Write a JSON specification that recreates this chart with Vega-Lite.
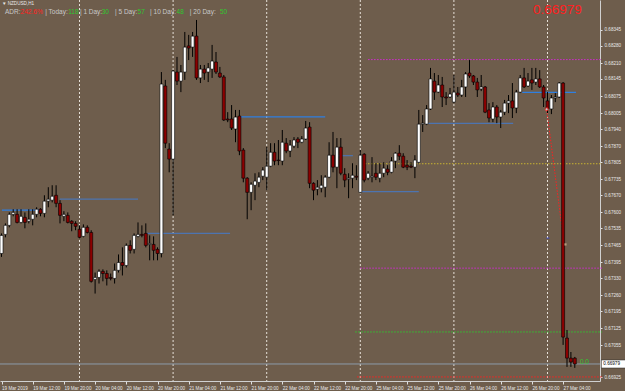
{
"$schema":"https://vega.github.io/schema/vega-lite/v6.json",
"width":600,"height":381,"autosize":{"type":"none"},"padding":{"left":0,"top":0,"right":25,"bottom":10},
"background":"#6e5d4c",
"config":{"view":{"stroke":null},"font":"Liberation Sans","axis":{"labelOverlap":false,"labelFlush":false,"labelBound":false},"scale":{"continuousPadding":0}},
"datasets":{
"candles":[
{"i":0,"o":0.67431,"h":0.67513,"l":0.67417,"c":0.67505},{"i":1,"o":0.67509,"h":0.67554,"l":0.67497,"c":0.67546},{"i":2,"o":0.67546,"h":0.67599,"l":0.67538,"c":0.67591},{"i":3,"o":0.67591,"h":0.67612,"l":0.67583,"c":0.67599},{"i":4,"o":0.67591,"h":0.67612,"l":0.67554,"c":0.67558},{"i":5,"o":0.67558,"h":0.67612,"l":0.67554,"c":0.67583},{"i":6,"o":0.67579,"h":0.67599,"l":0.67534,"c":0.67558},{"i":7,"o":0.67563,"h":0.67612,"l":0.67554,"c":0.67571},{"i":8,"o":0.67571,"h":0.67612,"l":0.67546,"c":0.67591},{"i":9,"o":0.67591,"h":0.6762,"l":0.67579,"c":0.67612},
{"i":10,"o":0.67612,"h":0.67616,"l":0.67583,"c":0.67595},{"i":11,"o":0.67595,"h":0.67669,"l":0.67579,"c":0.67645},{"i":12,"o":0.67645,"h":0.67702,"l":0.6762,"c":0.67653},{"i":13,"o":0.67649,"h":0.6771,"l":0.6764,"c":0.67665},{"i":14,"o":0.67669,"h":0.6771,"l":0.6762,"c":0.67636},{"i":15,"o":0.67636,"h":0.67649,"l":0.67554,"c":0.67587},{"i":16,"o":0.67583,"h":0.67604,"l":0.67563,"c":0.67591},{"i":17,"o":0.67587,"h":0.67599,"l":0.67554,"c":0.67558},{"i":18,"o":0.67563,"h":0.67567,"l":0.67522,"c":0.67554},{"i":19,"o":0.67554,"h":0.67563,"l":0.67526,"c":0.67542},
{"i":20,"o":0.6753,"h":0.67546,"l":0.67493,"c":0.67497},{"i":21,"o":0.67501,"h":0.6755,"l":0.67497,"c":0.67538},{"i":22,"o":0.67538,"h":0.67546,"l":0.67513,"c":0.67517},{"i":23,"o":0.67517,"h":0.67526,"l":0.67312,"c":0.67317},{"i":24,"o":0.67325,"h":0.67353,"l":0.67267,"c":0.67333},{"i":25,"o":0.67333,"h":0.67366,"l":0.67308,"c":0.67358},{"i":26,"o":0.67358,"h":0.67366,"l":0.67317,"c":0.67349},{"i":27,"o":0.67349,"h":0.67362,"l":0.673,"c":0.67329},{"i":28,"o":0.67333,"h":0.67349,"l":0.67321,"c":0.67329},{"i":29,"o":0.67329,"h":0.6739,"l":0.67308,"c":0.67362},
{"i":30,"o":0.67362,"h":0.67427,"l":0.67353,"c":0.67394},{"i":31,"o":0.67394,"h":0.67456,"l":0.67341,"c":0.67382},{"i":32,"o":0.67382,"h":0.67472,"l":0.67374,"c":0.67464},{"i":33,"o":0.67464,"h":0.67485,"l":0.67431,"c":0.67444},{"i":34,"o":0.67448,"h":0.67513,"l":0.67431,"c":0.67505},{"i":35,"o":0.67501,"h":0.67558,"l":0.67497,"c":0.67509},{"i":36,"o":0.67509,"h":0.67546,"l":0.67497,"c":0.67505},{"i":37,"o":0.67513,"h":0.67554,"l":0.67456,"c":0.67464},{"i":38,"o":0.67468,"h":0.67505,"l":0.67403,"c":0.67472},{"i":39,"o":0.67468,"h":0.67501,"l":0.67403,"c":0.67444},
{"i":40,"o":0.67448,"h":0.67456,"l":0.67403,"c":0.67431},{"i":41,"o":0.67431,"h":0.68173,"l":0.67415,"c":0.68124},{"i":42,"o":0.68116,"h":0.68141,"l":0.67862,"c":0.67882},{"i":43,"o":0.67858,"h":0.67882,"l":0.67763,"c":0.67817},{"i":44,"o":0.67817,"h":0.68181,"l":0.67587,"c":0.68177},{"i":45,"o":0.68173,"h":0.68235,"l":0.6812,"c":0.68136},{"i":46,"o":0.68136,"h":0.68202,"l":0.68091,"c":0.68173},{"i":47,"o":0.68173,"h":0.68337,"l":0.68141,"c":0.68275},{"i":48,"o":0.6828,"h":0.68325,"l":0.68222,"c":0.68271},{"i":49,"o":0.68275,"h":0.68337,"l":0.68235,"c":0.6832},
{"i":50,"o":0.6832,"h":0.68386,"l":0.68141,"c":0.68149},{"i":51,"o":0.68149,"h":0.68202,"l":0.68128,"c":0.68185},{"i":52,"o":0.68185,"h":0.68202,"l":0.68141,"c":0.68169},{"i":53,"o":0.68173,"h":0.6821,"l":0.68132,"c":0.6819},{"i":54,"o":0.68185,"h":0.68284,"l":0.68149,"c":0.68218},{"i":55,"o":0.68214,"h":0.68255,"l":0.68165,"c":0.68173},{"i":56,"o":0.68169,"h":0.68194,"l":0.68149,"c":0.68153},{"i":57,"o":0.68153,"h":0.68161,"l":0.67973,"c":0.67977},{"i":58,"o":0.67981,"h":0.68009,"l":0.67968,"c":0.67977},{"i":59,"o":0.67981,"h":0.68038,"l":0.67936,"c":0.67944},
{"i":60,"o":0.6794,"h":0.68018,"l":0.67886,"c":0.67989},{"i":61,"o":0.67993,"h":0.68018,"l":0.67833,"c":0.6785},{"i":62,"o":0.67854,"h":0.67862,"l":0.67722,"c":0.67739},{"i":63,"o":0.67739,"h":0.67743,"l":0.67571,"c":0.67681},{"i":64,"o":0.67681,"h":0.67722,"l":0.67608,"c":0.67714},{"i":65,"o":0.6771,"h":0.67759,"l":0.67649,"c":0.67727},{"i":66,"o":0.67722,"h":0.67763,"l":0.67702,"c":0.67743},{"i":67,"o":0.67747,"h":0.67784,"l":0.67731,"c":0.67772},{"i":68,"o":0.67743,"h":0.67866,"l":0.6769,"c":0.67788},{"i":69,"o":0.67788,"h":0.67882,"l":0.67784,"c":0.67845},
{"i":70,"o":0.67845,"h":0.67882,"l":0.67792,"c":0.67809},{"i":71,"o":0.67813,"h":0.67895,"l":0.67792,"c":0.67811},{"i":72,"o":0.67809,"h":0.67936,"l":0.67792,"c":0.67886},{"i":73,"o":0.67882,"h":0.67903,"l":0.67841,"c":0.6785},{"i":74,"o":0.6785,"h":0.67895,"l":0.67825,"c":0.67874},{"i":75,"o":0.6787,"h":0.67907,"l":0.67862,"c":0.67895},{"i":76,"o":0.67899,"h":0.67907,"l":0.67862,"c":0.67886},{"i":77,"o":0.67886,"h":0.67911,"l":0.67882,"c":0.67899},{"i":78,"o":0.67899,"h":0.67973,"l":0.67895,"c":0.67944},{"i":79,"o":0.67948,"h":0.67968,"l":0.67698,"c":0.67718},
{"i":80,"o":0.67718,"h":0.67722,"l":0.67649,"c":0.6769},{"i":81,"o":0.67694,"h":0.67731,"l":0.67669,"c":0.67702},{"i":82,"o":0.67698,"h":0.67751,"l":0.67681,"c":0.6771},{"i":83,"o":0.67702,"h":0.67751,"l":0.67661,"c":0.67743},{"i":84,"o":0.67743,"h":0.67886,"l":0.67739,"c":0.67833},{"i":85,"o":0.67833,"h":0.67928,"l":0.67763,"c":0.67784},{"i":86,"o":0.67784,"h":0.67903,"l":0.67698,"c":0.67866},{"i":87,"o":0.67866,"h":0.67903,"l":0.67751,"c":0.67759},{"i":88,"o":0.67755,"h":0.6778,"l":0.67702,"c":0.67731},{"i":89,"o":0.67735,"h":0.67759,"l":0.67657,"c":0.67739},
{"i":90,"o":0.67739,"h":0.678,"l":0.67698,"c":0.67751},{"i":91,"o":0.67747,"h":0.67792,"l":0.67731,"c":0.67743},{"i":92,"o":0.67681,"h":0.67854,"l":0.67677,"c":0.67833},{"i":93,"o":0.67837,"h":0.67841,"l":0.67722,"c":0.67731},{"i":94,"o":0.67739,"h":0.67768,"l":0.67731,"c":0.67759},{"i":95,"o":0.67743,"h":0.67825,"l":0.67722,"c":0.67747},{"i":96,"o":0.67759,"h":0.678,"l":0.67731,"c":0.67743},{"i":97,"o":0.67739,"h":0.678,"l":0.67722,"c":0.67759},{"i":98,"o":0.67759,"h":0.67804,"l":0.67743,"c":0.6778},{"i":99,"o":0.67776,"h":0.67792,"l":0.67751,"c":0.67763},
{"i":100,"o":0.67763,"h":0.67825,"l":0.67759,"c":0.67809},{"i":101,"o":0.67809,"h":0.67845,"l":0.6778,"c":0.67841},{"i":102,"o":0.67841,"h":0.67874,"l":0.67813,"c":0.67829},{"i":103,"o":0.67829,"h":0.67841,"l":0.6778,"c":0.67784},{"i":104,"o":0.67792,"h":0.67813,"l":0.67772,"c":0.67784},{"i":105,"o":0.67788,"h":0.67804,"l":0.6778,"c":0.67784},{"i":106,"o":0.67784,"h":0.67833,"l":0.67739,"c":0.67813},{"i":107,"o":0.67804,"h":0.68018,"l":0.678,"c":0.6796},{"i":108,"o":0.6796,"h":0.67997,"l":0.67928,"c":0.67964},{"i":109,"o":0.6796,"h":0.68038,"l":0.67956,"c":0.68022},
{"i":110,"o":0.68022,"h":0.6819,"l":0.68018,"c":0.68145},{"i":111,"o":0.68136,"h":0.68169,"l":0.68059,"c":0.68091},{"i":112,"o":0.68091,"h":0.68161,"l":0.68087,"c":0.6812},{"i":113,"o":0.6812,"h":0.68153,"l":0.6803,"c":0.68071},{"i":114,"o":0.68071,"h":0.68091,"l":0.68038,"c":0.68067},{"i":115,"o":0.68071,"h":0.68108,"l":0.68067,"c":0.68083},{"i":116,"o":0.6805,"h":0.68161,"l":0.68046,"c":0.68091},{"i":117,"o":0.68087,"h":0.68112,"l":0.68071,"c":0.68079},{"i":118,"o":0.68079,"h":0.68141,"l":0.68071,"c":0.68112},{"i":119,"o":0.68112,"h":0.68173,"l":0.68071,"c":0.68165},
{"i":120,"o":0.68169,"h":0.68222,"l":0.68149,"c":0.68157},{"i":121,"o":0.68157,"h":0.68161,"l":0.6812,"c":0.68132},{"i":122,"o":0.68132,"h":0.68149,"l":0.68071,"c":0.681},{"i":123,"o":0.68104,"h":0.68161,"l":0.68095,"c":0.68112},{"i":124,"o":0.68112,"h":0.68116,"l":0.68005,"c":0.68009},{"i":125,"o":0.68018,"h":0.68046,"l":0.67968,"c":0.67985},{"i":126,"o":0.67981,"h":0.6805,"l":0.67968,"c":0.6803},{"i":127,"o":0.6803,"h":0.68038,"l":0.67964,"c":0.67989},{"i":128,"o":0.67989,"h":0.68018,"l":0.67944,"c":0.68009},{"i":129,"o":0.68009,"h":0.68059,"l":0.67997,"c":0.68046},
{"i":130,"o":0.68046,"h":0.68079,"l":0.68005,"c":0.68055},{"i":131,"o":0.68055,"h":0.68128,"l":0.67985,"c":0.68026},{"i":132,"o":0.68026,"h":0.681,"l":0.68005,"c":0.68091},{"i":133,"o":0.68091,"h":0.68161,"l":0.68087,"c":0.68149},{"i":134,"o":0.68149,"h":0.6819,"l":0.68108,"c":0.68112},{"i":135,"o":0.68116,"h":0.68169,"l":0.68112,"c":0.68136},{"i":136,"o":0.68141,"h":0.6819,"l":0.681,"c":0.68128},{"i":137,"o":0.68132,"h":0.6819,"l":0.6812,"c":0.68145},{"i":138,"o":0.68145,"h":0.68181,"l":0.68108,"c":0.68112},{"i":139,"o":0.68112,"h":0.6812,"l":0.6803,"c":0.68067},
{"i":140,"o":0.68055,"h":0.68091,"l":0.68005,"c":0.68022},{"i":141,"o":0.68022,"h":0.68079,"l":0.68001,"c":0.68067},{"i":142,"o":0.68067,"h":0.68087,"l":0.6805,"c":0.68071},{"i":143,"o":0.68071,"h":0.68132,"l":0.68067,"c":0.68128},{"i":144,"o":0.68128,"h":0.68132,"l":0.67057,"c":0.67089},{"i":145,"o":0.67085,"h":0.67118,"l":0.66967,"c":0.67003},{"i":146,"o":0.67003,"h":0.67028,"l":0.66967,"c":0.66987},{"i":147,"o":0.67003,"h":0.67008,"l":0.66963,"c":0.66979}
],
"seps":[{"i":20},{"i":44},{"i":68},{"i":92},{"i":116},{"i":140}],
"segs":[
{"a":0.1,"b":10.6,"p":0.67608,"k":"blue"},{"a":15,"b":35,"p":0.67653,"k":"dim"},{"a":37.3,"b":58.6,"p":0.67513,"k":"dim"},{"a":61.2,"b":83,"p":0.6799,"k":"blue"},{"a":86.3,"b":90.1,"p":0.67831,"k":"dim"},{"a":92.4,"b":107,"p":0.67684,"k":"dim"},{"a":109.4,"b":131.2,"p":0.67963,"k":"dim"},{"a":133.5,"b":147.3,"p":0.6809,"k":"blue"}
],
"dots":[
{"a":94,"b":154,"p":0.68224,"k":"magenta"},{"a":93.2,"b":154,"p":0.67798,"k":"olive"},{"a":92,"b":154,"p":0.67371,"k":"magenta"},{"a":90.7,"b":154,"p":0.6711,"k":"green"},{"a":91.2,"b":154,"p":0.66926,"k":"red"}
],
"diag":[{"i":139.8,"p":0.68018},{"i":143.9,"p":0.67513}],
"marks":[
{"i":139.8,"p":0.68021,"k":"ring"},{"i":140.1,"p":0.67494,"k":"bluedash"},{"i":144.6,"p":0.67468,"k":"tan"}
],
"texts":[
{"g":"title","i":0.1,"p":0.684513,"t":"▼ NZDUSD,H1","k":"white"},
{"g":"adr","i":0.9,"p":0.684174,"t":"ADR:","k":"gray"},
{"g":"adr","i":4.9,"p":0.684174,"t":"242.6%","k":"red"},
{"g":"adr","i":11.2,"p":0.684174,"t":"| Today:","k":"gray"},
{"g":"adr","i":17.1,"p":0.684174,"t":"118","k":"green"},
{"g":"adr","i":20.1,"p":0.684174,"t":"| 1 Day:","k":"gray"},
{"g":"adr","i":25.7,"p":0.684174,"t":"30","k":"green"},
{"g":"adr","i":29.1,"p":0.684174,"t":"| 5 Day:","k":"gray"},
{"g":"adr","i":34.9,"p":0.684174,"t":"57","k":"green"},
{"g":"adr","i":38.1,"p":0.684174,"t":"| 10 Day:","k":"gray"},
{"g":"adr","i":44.9,"p":0.684174,"t":"48","k":"green"},
{"g":"adr","i":48.3,"p":0.684174,"t":"|  20 Day:","k":"gray"},
{"g":"adr","i":56,"p":0.684174,"t":"50","k":"green"},
{"g":"big","i":136.3,"p":0.684288,"t":"0.66979","k":"red"},
{"g":"adr","i":148.3,"p":0.66988,"t":"0.0","k":"green"}
],
"box":[{"a":153.8,"b":160,"p1":0.669953,"p2":0.669626,"pm":0.66979,"t":"0.66979"}]
},
"layer":[
{"data":{"name":"seps"},"mark":{"type":"rule","color":"#e6e0d8","strokeDash":[2,2],"strokeWidth":1},
 "encoding":{"x":{"field":"i","type":"quantitative","scale":{"domain":[-0.385,153.46],"nice":false,"zero":false,"padding":0},
   "axis":{"orient":"bottom","title":null,"grid":false,"tickCount":200,"values":[0,8,16,24,32,40,48,56,64,72,80,88,96,104,112,120,128,136,144],
   "labelExpr":"['19 Mar 2019','19 Mar 12:00','19 Mar 20:00','20 Mar 04:00','20 Mar 12:00','20 Mar 20:00','21 Mar 04:00','21 Mar 12:00','21 Mar 20:00','22 Mar 04:00','22 Mar 12:00','22 Mar 20:00','25 Mar 04:00','25 Mar 12:00','25 Mar 20:00','26 Mar 04:00','26 Mar 12:00','26 Mar 20:00','27 Mar 04:00'][round(datum.value/8)]",
   "labelAlign":"left","labelFontSize":4.6,"labelColor":"#e8e8e8","tickColor":"#e0e0e0","tickSize":3,"domainColor":"#d0d0d0","labelPadding":1,"labelBaseline":"top","labelOverlap":false,"labelFlush":false}}}},
{"data":{"name":"segs"},"mark":{"type":"rule","strokeWidth":1.2},
 "encoding":{"x":{"field":"a","type":"quantitative"},"x2":{"field":"b"},"y":{"field":"p","type":"quantitative",
   "scale":{"domain":[0.669094,0.684677],"nice":false,"zero":false,"padding":0},
   "axis":{"orient":"right","title":null,"grid":false,"tickCount":200,"values":[0.68345,0.6828,0.6821,0.68145,0.68075,0.68005,0.6794,0.6787,0.67805,0.67735,0.6767,0.676,0.67535,0.67465,0.67395,0.6733,0.6726,0.67195,0.67125,0.67055,0.66925],
   "format":".5f","labelFontSize":4.6,"labelColor":"#e8e8e8","tickColor":"#e0e0e0","tickSize":2,"domainColor":"#d0d0d0","labelPadding":2,"labelOverlap":false,"labelFlush":false}},
  "color":{"field":"k","type":"nominal","legend":null,"scale":{"domain":["blue","dim","magenta","olive","green","red","gray","white","box"],"range":["#2f7fe0","#4d74b0","#d22ad2","#c8b432","#2ec82e","#ff2020","#c8c8c8","#e8e8e8","#ffffff"]}}}},
{"data":{"name":"dots"},"mark":{"type":"rule","strokeWidth":1,"strokeDash":[1.5,1.5]},
 "encoding":{"x":{"field":"a","type":"quantitative"},"x2":{"field":"b"},"y":{"field":"p","type":"quantitative"},"color":{"field":"k","type":"nominal","legend":null}}},
{"data":{"name":"candles"},"mark":{"type":"rule","color":"#8c9bab","strokeWidth":1},"transform":[{"filter":"datum.i==147"}],
 "encoding":{"y":{"field":"c","type":"quantitative"}}},
{"data":{"name":"diag"},"mark":{"type":"line","color":"#ff2020","strokeDash":[1.5,1.5],"strokeWidth":1},
 "encoding":{"x":{"field":"i","type":"quantitative"},"y":{"field":"p","type":"quantitative"}}},
{"data":{"name":"candles"},"mark":{"type":"rule","color":"#000000","strokeWidth":1},
 "encoding":{"x":{"field":"i","type":"quantitative"},"y":{"field":"l","type":"quantitative"},"y2":{"field":"h"}}},
{"data":{"name":"candles"},"mark":{"type":"bar","size":3,"stroke":"#000000","strokeWidth":0.6},
 "encoding":{"x":{"field":"i","type":"quantitative"},"y":{"field":"o","type":"quantitative"},"y2":{"field":"c"},
  "fill":{"condition":{"test":"datum.c >= datum.o","value":"#ffffff"},"value":"#8b0000"}}},
{"data":{"name":"marks"},"transform":[{"filter":"datum.k=='ring'"}],"mark":{"type":"point","shape":"circle","size":10,"filled":true,"fill":"#ffffff","stroke":"#ff2020","strokeWidth":1},
 "encoding":{"x":{"field":"i","type":"quantitative"},"y":{"field":"p","type":"quantitative"}}},
{"data":{"name":"marks"},"transform":[{"filter":"datum.k=='bluedash'"}],"mark":{"type":"tick","orient":"horizontal","size":3,"thickness":1,"color":"#2040ff"},
 "encoding":{"x":{"field":"i","type":"quantitative"},"y":{"field":"p","type":"quantitative"}}},
{"data":{"name":"marks"},"transform":[{"filter":"datum.k=='tan'"}],"mark":{"type":"point","shape":"square","size":5,"filled":true,"color":"#d8b890"},
 "encoding":{"x":{"field":"i","type":"quantitative"},"y":{"field":"p","type":"quantitative"}}},
{"data":{"name":"box"},"mark":{"type":"rect","fill":"#ffffff","stroke":"#202020","strokeWidth":0.5,"clip":false},
 "encoding":{"x":{"field":"a","type":"quantitative"},"x2":{"field":"b"},"y":{"field":"p1","type":"quantitative"},"y2":{"field":"p2"}}},
{"data":{"name":"box"},"mark":{"type":"text","fontSize":4.6,"color":"#000000","align":"left","baseline":"middle","dx":2},
 "encoding":{"x":{"field":"a","type":"quantitative"},"y":{"field":"pm","type":"quantitative"},"text":{"field":"t"}}},
{"data":{"name":"texts"},"transform":[{"filter":"datum.g=='title'"}],"mark":{"type":"text","fontSize":4.6,"align":"left","baseline":"middle"},
 "encoding":{"x":{"field":"i","type":"quantitative"},"y":{"field":"p","type":"quantitative"},"text":{"field":"t"},"color":{"field":"k","type":"nominal","legend":null}}},
{"data":{"name":"texts"},"transform":[{"filter":"datum.g=='adr'"}],"mark":{"type":"text","fontSize":6.5,"align":"left","baseline":"middle"},
 "encoding":{"x":{"field":"i","type":"quantitative"},"y":{"field":"p","type":"quantitative"},"text":{"field":"t"},"color":{"field":"k","type":"nominal","legend":null}}},
{"data":{"name":"texts"},"transform":[{"filter":"datum.g=='big'"}],"mark":{"type":"text","fontSize":13.5,"align":"left","baseline":"middle"},
 "encoding":{"x":{"field":"i","type":"quantitative"},"y":{"field":"p","type":"quantitative"},"text":{"field":"t"},"color":{"field":"k","type":"nominal","legend":null}}}
]
}
